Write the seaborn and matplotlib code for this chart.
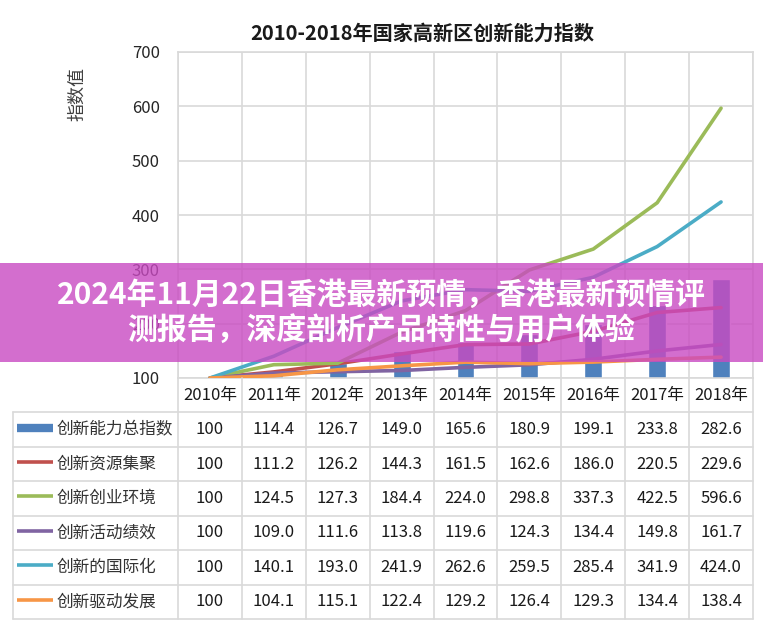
import numpy as np
import pandas as pd
import matplotlib.pyplot as plt
from matplotlib.patches import Rectangle
import seaborn as sns

years = ['2010年', '2011年', '2012年', '2013年', '2014年', '2015年', '2016年', '2017年', '2018年']
total_index = [100, 114.4, 126.7, 149.0, 165.6, 180.9, 199.1, 233.8, 282.6]
resources = [100, 111.2, 126.2, 144.3, 161.5, 162.6, 186.0, 220.5, 229.6]
environment = [100, 124.5, 127.3, 184.4, 224.0, 298.8, 337.3, 422.5, 596.6]
performance = [100, 109.0, 111.6, 113.8, 119.6, 124.3, 134.4, 149.8, 161.7]
international = [100, 140.1, 193.0, 241.9, 262.6, 259.5, 285.4, 341.9, 424.0]
driven = [100, 104.1, 115.1, 122.4, 129.2, 126.4, 129.3, 134.4, 138.4]

series_names = ['创新能力总指数', '创新资源集聚', '创新创业环境', '创新活动绩效', '创新的国际化', '创新驱动发展']
series_values = [total_index, resources, environment, performance, international, driven]
series_colors = ['#4f81bd', '#c0504d', '#9bbb59', '#8064a2', '#4bacc6', '#f79646']

title = '2010-2018年国家高新区创新能力指数'
banner_lines = ['2024年11月22日香港最新预情，香港最新预情评', '测报告，深度剖析产品特性与用户体验']

sns.set_theme(style='white')
plt.rcParams['font.family'] = ['Noto Sans CJK SC', 'DejaVu Sans']

W, H = 763, 626
fig = plt.figure(figsize=(W / 100, H / 100), dpi=100)
grid_c = '#d9d9d9'

def fx(px):
    return px / W

def fy(py):
    return 1 - py / H

# main chart area
left, right, top, bottom = 178, 753, 52, 378
ax = fig.add_axes([fx(left), fy(bottom), fx(right - left), fy(top) - fy(bottom)])

n = len(years)
idx = np.arange(n)
df = pd.DataFrame({'pos': idx, 'year': years})
for name, vals in zip(series_names, series_values):
    df[name] = vals

sns.barplot(data=df, x='pos', y=series_names[0], color=series_colors[0],
            width=0.28, saturation=1, native_scale=True, ax=ax, zorder=2)
for name, c in zip(series_names[1:], series_colors[1:]):
    sns.lineplot(data=df, x='pos', y=name, color=c, lw=2.6, ax=ax, zorder=3)

ax.set_xlim(-0.5, n - 0.5)
ax.set_ylim(100, 700)
ax.set_yticks(range(100, 701, 100))
ax.set_xticks([])
ax.set_xticks(np.arange(-0.5, n, 1), minor=True)
ax.tick_params(axis='y', length=0, pad=13, labelsize=12, labelcolor='#262626')
ax.tick_params(axis='x', which='both', length=0, labelbottom=False)
ax.grid(True, axis='y', color=grid_c, lw=1.2)
ax.grid(True, axis='x', which='minor', color=grid_c, lw=1.2)
ax.set_axisbelow(True)
for s in ax.spines.values():
    s.set_color(grid_c)
    s.set_linewidth(1.2)
ax.set_xlabel('')
ax.set_ylabel('指数值', fontsize=13, color='#404040', rotation=90, va='center')
ax.yaxis.set_label_coords((77 - left) / (right - left), (bottom - 94) / (bottom - top))

fig.text(fx(422), fy(33), title, ha='center', va='center', fontsize=14.5,
         fontweight='bold', color='#1a1a1a')

# data table below the chart
tl, tb = 13, 619
lw_cols = (left - tl) / ((right - left) / n)
tax = fig.add_axes([fx(tl), fy(tb), fx(right - tl), fy(bottom) - fy(tb)])
nrows = len(series_names) + 1
tax.set_xlim(-0.5 - lw_cols, n - 0.5)
tax.set_ylim(nrows, 0)
tax.axis('off')
x0 = -0.5 - lw_cols
for r in range(1, nrows + 1):
    tax.plot([x0, n - 0.5], [r, r], color=grid_c, lw=1.2, clip_on=False)
for k in range(n + 1):
    tax.plot([k - 0.5, k - 0.5], [0, nrows], color=grid_c, lw=1.2, clip_on=False)
tax.plot([x0, x0], [1, nrows], color=grid_c, lw=1.2, clip_on=False)

for j, y in enumerate(years):
    tax.text(j, 0.5, y, ha='center', va='center', fontsize=12, color='#1a1a1a')
for i, (name, vals, c) in enumerate(zip(series_names, series_values, series_colors)):
    r = i + 1.5
    tax.plot([x0 + 0.07, x0 + 0.62], [r - 0.06, r - 0.06], color=c,
             lw=6 if i == 0 else 2.6, solid_capstyle='butt')
    tax.text(x0 + 0.68, r, name, ha='left', va='center', fontsize=12, color='#333333')
    for j, v in enumerate(vals):
        s = '100' if j == 0 else f'{v:.1f}'
        tax.text(j, r, s, ha='center', va='center', fontsize=12, color='#1a1a1a')

# overlay banner
fig.add_artist(Rectangle((0, fy(362)), 1, fy(263) - fy(362), transform=fig.transFigure,
                         facecolor=(0.79, 0.29, 0.76), alpha=0.8, edgecolor='none', zorder=5))
fig.text(0.5, fy(295), banner_lines[0], ha='center', va='center', fontsize=21.5,
         fontweight='bold', color='white', zorder=6)
fig.text(0.5, fy(330), banner_lines[1], ha='center', va='center', fontsize=21.5,
         fontweight='bold', color='white', zorder=6)

fig.savefig('out.png', dpi=100)
